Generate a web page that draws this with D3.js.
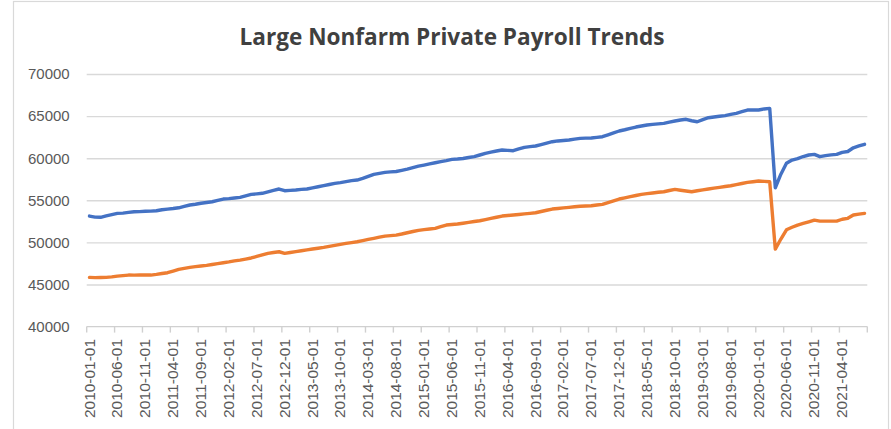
<!DOCTYPE html>
<html>
<head>
<meta charset="utf-8">
<script src="https://cdn.jsdelivr.net/npm/d3@7"></script>
<style>
  html, body { margin: 0; padding: 0; background: #fff; }
  svg { display: block; }
</style>
</head>
<body>
<svg id="chart" width="891" height="429"></svg>
<script>
// ---- data ----
const title = "Large Nonfarm Private Payroll Trends";
const startYear = 2010, monthCount = 140; // 2010-01 .. 2021-08
const months = [];
for (let i = 0; i < monthCount; i++) {
  const y = startYear + Math.floor(i / 12), m = (i % 12) + 1;
  months.push(`${y}-${String(m).padStart(2, "0")}-01`);
}
const yTicks = [40000, 45000, 50000, 55000, 60000, 65000, 70000];
const blueSeries = [
  53130,53000,52980,53150,53300,53450,53480,53560,53640,53650,53700,53720,
  53760,53880,53950,54020,54110,54280,54440,54530,54650,54740,54830,54990,
  55150,55200,55280,55350,55520,55700,55760,55830,56000,56180,56340,56140,
  56180,56230,56300,56340,56480,56610,56750,56880,57010,57100,57210,57330,
  57410,57610,57850,58080,58200,58320,58380,58420,58560,58710,58880,59050,
  59180,59320,59460,59600,59720,59860,59900,59960,60080,60180,60380,60580,
  60720,60850,60970,60930,60890,61100,61290,61380,61450,61620,61800,61960,
  62050,62100,62160,62260,62360,62380,62400,62480,62550,62780,63000,63230,
  63380,63550,63700,63820,63940,64020,64080,64140,64280,64420,64540,64620,
  64450,64330,64580,64810,64900,64980,65050,65200,65330,65520,65720,65720,
  65720,65850,65920,56490,58100,59390,59780,59950,60200,60380,60460,60180,
  60300,60400,60460,60700,60800,61240,61450,61650
];
const orangeSeries = [
  45850,45820,45830,45850,45900,46000,46060,46120,46110,46120,46130,46120,
  46200,46300,46400,46600,46800,46920,47040,47120,47200,47270,47380,47480,
  47580,47680,47800,47900,48020,48150,48330,48520,48700,48800,48890,48700,
  48800,48900,49010,49110,49210,49310,49410,49530,49650,49770,49880,49980,
  50080,50220,50350,50480,50620,50750,50810,50870,51000,51150,51290,51430,
  51510,51590,51670,51860,52060,52120,52180,52280,52380,52480,52570,52710,
  52850,52990,53130,53190,53250,53320,53390,53450,53520,53670,53820,53960,
  54030,54100,54160,54230,54300,54320,54350,54440,54520,54730,54940,55150,
  55290,55430,55570,55710,55790,55870,55950,56020,56160,56300,56200,56110,
  56020,56130,56240,56340,56440,56540,56640,56730,56870,57000,57130,57210,
  57290,57250,57200,49210,50400,51500,51800,52060,52250,52450,52650,52530,
  52530,52530,52530,52750,52860,53250,53350,53450
];
const labelStep = 5;

// ---- layout ----
const svg = d3.select("#chart");
const plot = { left: 86.7, right: 867.3, top: 74, bottom: 326.6 };

// chart frame
svg.append("rect")
  .attr("x", 13.5).attr("y", 1.5).attr("width", 875).attr("height", 440)
  .attr("fill", "#fff").attr("stroke", "#d9d9d9").attr("stroke-width", 1.2);

const x = d3.scaleBand().domain(months).range([plot.left, plot.right]).padding(0);
const y = d3.scaleLinear().domain([40000, 70000]).range([plot.bottom, plot.top]);
const xc = d => x(d) + x.bandwidth() / 2;

// title
svg.append("text")
  .attr("x", 452).attr("y", 45)
  .attr("text-anchor", "middle")
  .attr("font-family", "'Liberation Sans Narrow', 'Open Sans', 'Liberation Sans', sans-serif")
  .attr("font-weight", "bold")
  .attr("font-size", 23)
  .attr("fill", "#404040")
  .attr("textLength", 425).attr("lengthAdjust", "spacingAndGlyphs")
  .text(title);

// gridlines + y labels
const yAxis = d3.axisLeft(y).tickValues(yTicks)
  .tickSize(-(plot.right - plot.left)).tickPadding(17)
  .tickFormat(d3.format("d"));
const gy = svg.append("g").attr("transform", `translate(${plot.left},0)`).call(yAxis);
gy.select(".domain").remove();
gy.selectAll(".tick line").attr("stroke", "#d9d9d9").attr("stroke-width", 1.4)
  .filter(d => d === 40000).remove();
gy.selectAll(".tick text")
  .attr("font-family", "'Liberation Sans', Arial, sans-serif")
  .attr("font-size", 15).attr("fill", "#595959");

// x axis baseline + ticks
const gx = svg.append("g");
gx.append("line")
  .attr("x1", plot.left).attr("x2", plot.right)
  .attr("y1", y(40000)).attr("y2", y(40000))
  .attr("stroke", "#d0d0d0").attr("stroke-width", 1.4);
const tickPos = months.filter((d, i) => i % labelStep === 0).map(d => x(d)).concat([plot.right]);
gx.selectAll("line.tk").data(tickPos).join("line").attr("class", "tk")
  .attr("x1", d => d).attr("x2", d => d)
  .attr("y1", y(40000)).attr("y2", y(40000) + 6)
  .attr("stroke", "#d0d0d0").attr("stroke-width", 1.4);

const labelMonths = months.filter((d, i) => i % labelStep === 0);
gx.selectAll("text.xl").data(labelMonths).join("text").attr("class", "xl")
  .attr("transform", d => `translate(${xc(d)},339) rotate(-90)`)
  .attr("dy", "0.36em")
  .attr("text-anchor", "end")
  .attr("font-family", "'Liberation Sans', Arial, sans-serif")
  .attr("font-size", 14).attr("fill", "#595959")
  .attr("textLength", 79).attr("lengthAdjust", "spacingAndGlyphs")
  .text(d => d);

// lines
const line = d3.line().x((d, i) => xc(months[i])).y(d => y(d));
svg.append("path").datum(orangeSeries)
  .attr("fill", "none").attr("stroke", "#ED7D31").attr("stroke-width", 3.4)
  .attr("stroke-linejoin", "round").attr("stroke-linecap", "round")
  .attr("d", line);
svg.append("path").datum(blueSeries)
  .attr("fill", "none").attr("stroke", "#4472C4").attr("stroke-width", 3.4)
  .attr("stroke-linejoin", "round").attr("stroke-linecap", "round")
  .attr("d", line);
</script>
</body>
</html>
